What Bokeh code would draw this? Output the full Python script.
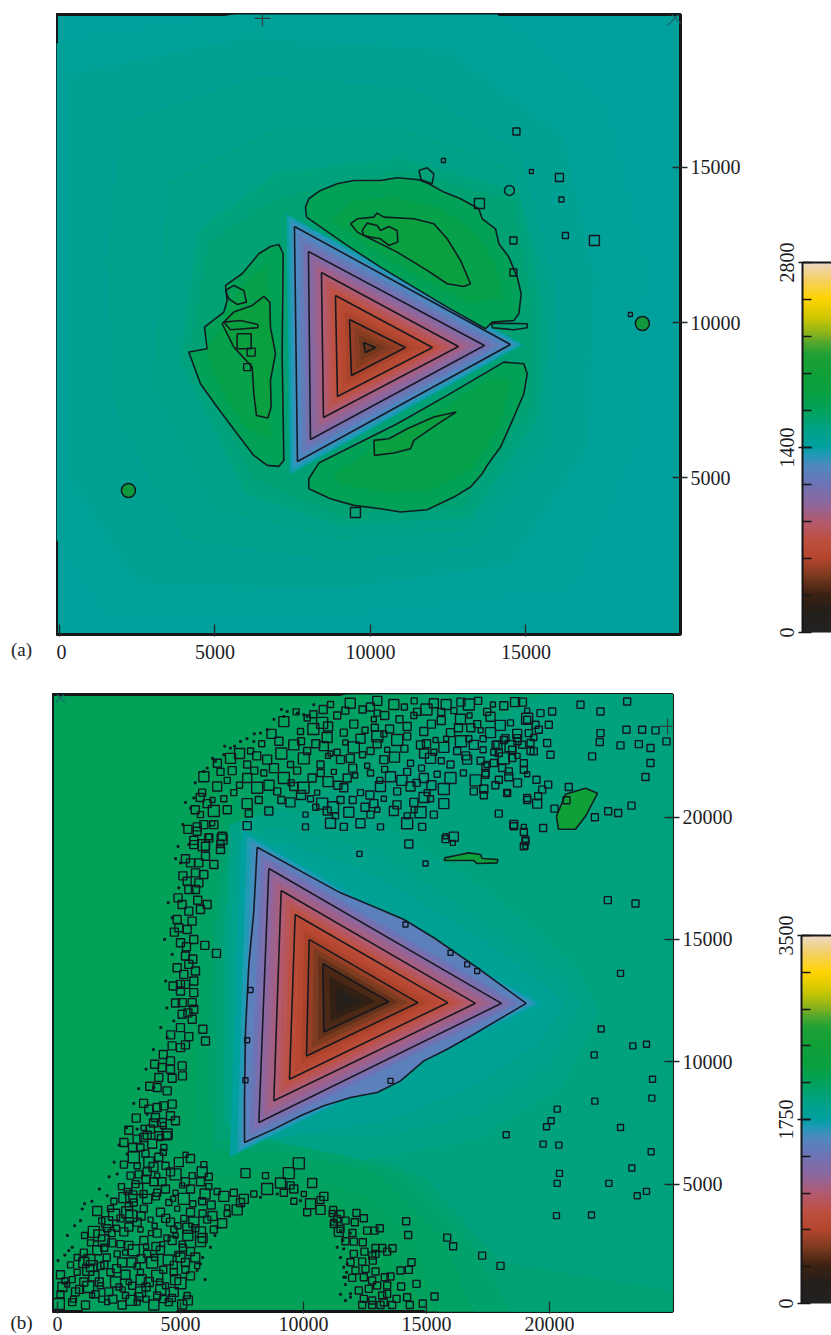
import numpy as np
from bokeh.plotting import figure
from bokeh.layouts import column, row
from bokeh.embed import file_html
from bokeh.resources import INLINE
from bokeh.models import LinearColorMapper, ColumnDataSource, FixedTicker, Arrow, Span
from bokeh.transform import transform

# ---------- colour scale (fraction of full scale, colour)
SCALE_POS = [0, .05, .1, .15, .2, .25, .3, .35, .4, .45, .48, .5, .55, .6, .65, .7, .75, .78, .8, .85, .9, .95, 1]
SCALE_COL = ["#222222", "#231f1c", "#3a2012", "#7a3a1e", "#b5452e", "#bd5040", "#b25a70", "#8d68a0", "#6f73b5",
             "#4f88c0", "#1f9ab5", "#00a0a0", "#00a285", "#00a25a", "#0aa040", "#10a038", "#20a035", "#50a82f",
             "#80b020", "#d0c800", "#ffd400", "#f5d060", "#ecd8c8"]
MAX_A, MAX_B = 2800, 3500

# ---------- panel (a): height field as iso-level regions, lowest region first
BASE_A = 1415
ISO_A = [
 (1440, [-100,6000,14000,17500,18800,18500,16500,9000,1500,-100], [19000,20000,20000,17000,12000,6000,1500,600,600,3000]),
 (1470, [300,6000,12500,16200,17200,17000,14500,9000,2500,300], [18000,19200,18800,16000,11500,6000,2200,1400,1600,5000]),
 (1500, [2000,6500,11500,14800,16000,15800,13500,9000,4000,1800,1500], [16500,18000,17500,15500,11000,6000,2800,2300,3000,7000,12000]),
 (1530, [3500,7000,11000,14500,15800,15500,13000,9000,5000,3000], [14500,16300,16300,15000,11000,6000,3300,3000,4000,8000]),
 (1570, [4500,7000,11000,14800,15500,15400,13200,9000,6000,3900], [13000,14800,15300,14200,10500,7000,3700,3500,4500,8800]),
 (1600, [4800,7000,11000,14600,15200,15200,13000,9000,6200,4200], [12600,14000,14900,13900,10400,7400,4100,3800,5000,9000])]

# nested triangles: (level, x1, y1, x2, y2, x3, y3); outermost first
TRI_A = [
 (1385, 7300,13500,14900,9291,7400,5100),
 (1345, 7380,13400,14800,9291,7470,5200),
 (1300, 7459,13259,14650,9291,7555,5355),
 (1260, 7555,13098,14500,9291,7652,5516),
 (1176, 7705,12829,14221,9280,7791,5753),
 (1092, 7855,12560,13943,9270,7931,5989),
 (1008, 8005,12291,13664,9259,8070,6226),
 (952, 8144,12065,13385,9248,8209,6463),
 (896, 8284,11840,13107,9237,8349,6699),
 (840, 8423,11614,12828,9226,8488,6936),
 (770, 8573,11367,12549,9215,8638,7162),
 (700, 8723,11120,12271,9205,8788,7387),
 (630, 8873,10872,11992,9194,8938,7613),
 (585, 9023,10614,11703,9194,9088,7839),
 (535, 9174,10355,11413,9194,9238,8065),
 (490, 9324,10097,11124,9194,9388,8291),
 (450, 9474,9850,10803,9194,9538,8538),
 (410, 9624,9602,10482,9194,9688,8786),
 (380, 9774,9355,10160,9194,9838,9033)]
TRI_A_CONTOUR_LEVELS = [1260, 1008, 840, 630, 490, 380]

LOBE_TOP_X = [7942,7910,8017,8392,8928,9464,10322,10858,11555,11876,12359,12895,13484,13592,14020,14128,14449,14717,14846,14771,14610,13913,13699,12466,11394,10322,9250]
LOBE_TOP_Y = [13399,13722,13991,14260,14475,14582,14582,14668,14604,14475,14206,13991,13668,13346,13023,12540,12109,11465,10927,10282,10067,10013,9798,10497,11142,11787,12486]
LOBE_TOP_CORE_X = [8700,9500,10800,12200,13300,14000,14300,13200,11500,10000]
LOBE_TOP_CORE_Y = [13300,13950,14050,13700,13000,11900,10800,10600,11500,12400]
LOBE_TOP_IN_X = [9357,9572,10108,10215,10429,11394,12037,12466,12895,13216,13002,12466,11823,10858,10000,9572]
LOBE_TOP_IN_Y = [13185,13346,13399,13529,13399,13346,13185,12701,12002,11250,11163,11250,11680,12271,12701,12916]
LOBE_TOP_KNOT_X = [9732,9893,10215,10322,10590,10858,10879,10590,10322,10000,9786]
LOBE_TOP_KNOT_Y = [12969,13206,13131,12969,13098,12969,12593,12486,12701,12755,12808]
LOBE_LEFT_X = [6784,7052,7192,7160,7213,7052,6677,6248,5712,5069,4533,4158,4748,4662,5284,5391,5337,5873,6409]
LOBE_LEFT_Y = [12453,12518,12217,8992,5552,5359,5391,5713,6412,7272,8024,9046,9153,9852,10336,10712,11196,11572,12217]
LOBE_LEFT_CORE_X = [6700,6800,6000,5200,4700,5200,5700]
LOBE_LEFT_CORE_Y = [11900,6200,6600,7800,9100,9900,11000]
LOBE_LEFT_IN_X = [6570,6763,6784,6945,6784,6806,6699,6334,6248,6195,5605,5391,5230,5605,6195]
LOBE_LEFT_IN_Y = [10841,10658,9852,8992,8132,7272,6917,7003,7702,8562,9207,9637,9960,10336,10551]
LEFT_KNOT1_X = [5337,5605,5927,6013,5712,5444]
LEFT_KNOT1_Y = [11034,11196,11034,10658,10583,10766]
LEFT_KNOT2_X = [5284,5820,6377,6377,5498]
LEFT_KNOT2_Y = [10013,10067,9938,9830,9766]
LEFT_KNOT3_X = [5712,6163,6163,5712]
LEFT_KNOT3_Y = [9637,9637,9153,9153]
LOBE_BOT_X = [8339,8017,8017,8714,9464,10322,10965,11823,12680,13216,13592,13752,14181,14610,14932,15039,14932,14288,12466,10858]
LOBE_BOT_Y = [5466,4961,4638,4316,4101,3993,3886,3961,4369,4692,5122,5391,5982,6950,7702,8347,8670,8723,7648,6734]
LOBE_BOT_CORE_X = [8800,9000,10500,12000,13300,14200,14500,14000,12300,10500]
LOBE_BOT_CORE_Y = [5100,4800,4500,4600,5300,6700,8100,8300,7200,6200]
LOBE_BOT_IN_X = [10108,10590,11180,12037,12755,12252,11394,11287,10751,10129]
LOBE_BOT_IN_Y = [6197,6251,6573,6950,7111,6788,6197,5928,5789,5713]
BLOB_A1_X = [11555,11823,12037,11984,11630]
BLOB_A1_Y = [14904,14990,14797,14475,14604]
BAR_A_X = [13913,15039,15039,14610,13913]
BAR_A_Y = [9981,9959,9830,9766,9830]
DOT_A_X = [14693,12346,15175,16075,16139,13503,14596,14596,16268,17200,18358,9516,6163,6034]
DOT_A_Y = [16162,15227,14872,14678,13969,13840,12646,11614,12807,12646,10259,3871,9046,8562]
DOT_A_SIZE = [7,4,4,8,5,10,7,7,6,10,4,10,8,7]
RING_A_X = [14468]
RING_A_Y = [14259]
GREEN_A_X = [18743,2218]
GREEN_A_Y = [9968,4581]

# ---------- panel (b)
BASE_B = 2120
ISO_B = [
 (2090, [1000,2600,4400,5000,5200,7000,10000,12000,25100,25100,15000,13500,11500,9000,6800,5500,4800], [-300,6000,10000,16000,19000,22000,24500,25100,25100,-300,-300,2500,4200,5000,4500,2200,-300]),
 (2060, [5600,5800,6000,7800,10500,13000,25100,25100,15500,14500,12500,9000,6800,5500], [9000,14000,18500,21500,23500,25100,25100,-300,-300,2500,4500,5700,5300,5500]),
 (2030, [6100,6300,6600,8300,11000,15000,25100,25100,17000,15500,13000,9000,6300], [10000,15000,18500,20800,22500,25100,25100,-300,-300,3000,5500,6300,6400]),
 (2000, [6400,6900,8700,12000,16500,25100,25100,18500,16500,14000,9000,6500], [15000,18500,20500,22000,25100,25100,-300,-300,3000,5500,6800,6800]),
 (1960, [6700,7200,9000,12500,16000,20000,25100,25100,18000,15000,10000,6800], [15000,19000,20500,21500,23000,25100,25100,600,1800,5200,7300,7400]),
 (1925, [7000,9000,13000,17500,21000,22000,20500,17000,12500,8500,6800,6800], [19700,20300,19800,17000,14000,12000,9000,6800,6000,6800,7500,14000]),
 (1880, [7200,9000,13000,17000,20500,21300,20000,17000,13000,9000,7100,7000], [19300,19600,18600,16000,13500,12300,9800,7800,6900,7000,7800,14000]),
 (1820, [7400,9200,13000,17000,20000,20600,19500,17000,13500,9500,7300,7200], [19000,19000,17600,15200,13000,12300,10700,9000,7600,7000,6600,13000])]
HALO_B = [
 (1750, 7500,19500,19700,12390,7000,6100),
 (1680, 7700,19250,19500,12390,7300,6300),
 (1610, 7900,19000,19300,12390,7450,6500)]
EDGE_B_X = [8117,10014,11504,13130,14079,15298,17060,19051,16924,15840,14892,13943,12995,11911,10827,9878,8794,7602,7602,7642,7778,7981]
EDGE_B_Y = [18768,17721,16905,16225,15817,15069,13845,12390,11125,10513,10037,9221,8745,8541,8201,7793,7249,6705,8541,11261,13981,16157]
EDGE_B_LEVEL = 1505
TRI_B = [
 (1412, 8275,18478,18717,12390,7796,6977),
 (1318, 8433,18188,18383,12390,7990,7249),
 (1225, 8591,17898,18049,12390,8184,7521),
 (1167, 8758,17599,17697,12390,8387,7816),
 (1108, 8925,17299,17344,12390,8591,8110),
 (1050, 9092,17000,16992,12390,8794,8405),
 (968, 9282,16674,16617,12399,9006,8700),
 (886, 9471,16347,16242,12408,9219,8994),
 (805, 9661,16021,15867,12417,9431,9289),
 (740, 9851,15681,15461,12417,9661,9606),
 (676, 10040,15341,15054,12417,9892,9924),
 (612, 10230,15001,14648,12417,10122,10241),
 (540, 10415,14670,14255,12431,10357,10567),
 (470, 10601,14339,13862,12444,10592,10894),
 (400, 10786,14008,13469,12458,10827,11220),
 (300, 11050,13500,12950,12470,11100,11650),
 (210, 11300,13050,12400,12470,11350,11980),
 (140, 11500,12800,12000,12480,11530,12200)]
TRI_B_CONTOUR_LEVELS = [1225, 1050, 805, 612, 400]

BLOB_B_X = [20284,20650,21463,21951,21463,21056,20365]
BLOB_B_Y = [20033,20930,21175,20971,20033,19502,19502]
STRIP_B_X = [15732,16247,16721,17195,17263,17900,17873,17060,16924,15732]
STRIP_B_Y = [18333,18442,18537,18469,18306,18265,18129,18102,18224,18224]

# small closed contours as (x, y)
BAND_TOP = [
 (12720,24500),(12995,24250),(13672,24600),(14620,24300),(15298,24650),(16111,24350),(16721,24600),(17466,24300),(18143,24550),(19092,24350),(13300,24150),(14100,24500),(15800,24600),(17100,24750),(18600,24700),
 (10149,24050),(10759,23850),(11369,24150),(12046,23800),(12859,24000),(14214,23700),(14485,24150),(16382,24000),(17060,23800),(17602,24100),(18415,23850),(19092,24020),(11700,24350),(15600,23950),(16750,24150),(13500,23600),
 (9878,23500),(10962,23250),(11640,23450),(12317,23200),(13266,23400),(13808,23150),(14214,23300),(14892,23500),(15366,23150),(15975,23450),(16721,23200),(17602,23450),(18143,23150),(18686,23400),(19363,23250),(10400,23600),(12900,23650),(16300,23650),(17200,23550),(15000,23000),
 (7846,22700),(9607,22950),(10149,22700),(10827,22900),(11369,22650),(12046,22850),(12724,22700),(12995,23000),(13401,22750),(14756,22950),(15298,22650),(15705,22850),(16247,22700),(16924,22950),(17737,22650),(18415,22900),(19227,22700),(9000,23100),(11700,23050),(16600,22500),(17300,22750),
 (7033,22400),(7710,22150),(8523,22350),(9472,22150),(10014,22400),(10691,22150),(11504,22350),(12588,22100),(13266,22350),(14350,22200),(15163,22400),(15975,22150),(16653,22350),(17466,22150),(18143,22400),(18957,22200),(8100,22500),(11000,22500),(12000,22000),(14800,22000),
 (5949,21650),(6626,21850),(7710,21600),(8388,21800),(9201,21600),(9743,21900),(10352,21600),(11233,21850),(11775,21600),(12724,21800),(13537,21650),(14214,21850),(14892,21600),(15434,21750),(15975,21600),(17398,21800),(18347,21650),(19092,21750),(7100,21900),(13100,21500),(11000,21450),
 (5881,21000),(6491,21250),(7168,21000),(8117,21200),(8930,21050),(9607,21250),(10555,21000),(11640,21200),(12317,21000),(13130,21250),(13808,21050),(14350,21250),(15027,21000),(15705,21150),(16924,21050),(17330,21150),(18279,21000),
 (6084,20550),(6762,20750),(7710,20550),(8184,20700),(9472,20600),(10285,20750),(10759,20550),(11504,20700),(12859,20550),(13266,20750),(14485,20600),(15163,20750),(15705,20550),(19092,20700),(19499,20550),
 (5813,20100),(6355,20250),(7778,20150),(8591,20250),(10081,20100),(10962,20250),(11301,20050),(11843,20200),(12724,20100),(13672,20250),(14214,20050),(14756,20200),(15298,20100),
 (5678,19600),(6287,19750),(7710,19650),(10081,19600),(11098,19750),(11640,19600),(12317,19750),(13130,19600),(14214,19750),(14824,19600),(18550,19700),(18957,19600),
 (5542,19050),(6152,19200),(6694,19100),(15772,19100),(16111,19200),(19024,19100),(5949,18850),(6626,18900),(14282,18900),(19024,18800),
 (10800,24400),(11100,24600),(11900,24650),(12400,24400),(13000,24750),(14500,24750),(15000,24400),(15600,24300),(16400,24700),(17700,24600),(18900,24700),
 (9700,24300),(9200,23900),(10400,24200),(11000,23700),(12500,23550),(13000,23300),(13900,24000),(15200,23800),(15800,23200),(16800,23650),(17300,23200),(18000,23750),(18700,23100),
 (8700,23400),(8300,23000),(9100,22600),(9900,23100),(10500,23000),(11100,22600),(11900,22400),(12400,22550),(13700,22450),(14100,22800),(14900,22600),(15600,22300),(16400,23100),(17200,22300),(17900,22950),(18700,22500),
 (6500,22200),(6900,21500),(7400,22600),(8000,21900),(8800,22000),(9500,21400),(10000,21200),(10700,21800),(11400,21300),(12100,21700),(12700,20900),(13300,21950),(14000,21500),(14600,21400),(15200,21300),(16500,21800),(17000,21500),(17800,21300),(18700,21400),
 (6300,20700),(6900,20300),(7400,21300),(8600,21300),(9100,20700),(9900,20900),(10500,20400),(11200,20400),(12000,20700),(12500,20400),(13000,20300),(13800,20500),(14500,20300),(14900,20800)]
TOPRIGHT_X = [21260,22073,23157,20108,19634,19092,19431,19973,19160,19566,18686,18211,18889,19228,17805,17940,18482,18482,19363,19905,20041,22073,22046,23130,23767,22886,23631,24106,24309,24756,21734,24106,23902,17737,17398,18076,18347,18957,17398,17940,19471,19946,19702,20786,18279,17330,19092,19539,20691,20203,17940,18550,18957,19742,19024,18957,22385,22791,21843,23333,22371,23496]
TOPRIGHT_Y = [24589,24317,24725,24317,24249,23977,23773,23773,23433,23569,23229,23229,22957,23025,22957,22617,22753,22413,22685,23025,22549,23433,23066,23569,23569,22930,22984,22821,23542,23093,22481,22209,21638,22209,22073,22005,21869,21937,21733,21529,21529,21325,21121,21230,20985,20890,20781,20849,20686,20346,20142,19625,19394,19557,19013,18809,20237,20169,19992,20468,16606,16470]
RIGHT_X = [22886,22100,23387,23943,21816,24187,24160,21843,20312,20068,19878,22886,18238,19742,20379,24133,23347,20406,20312,22412,23564,23943,20284,21707]
RIGHT_Y = [13614,11343,10649,10717,10282,9289,8514,8392,8065,7589,7344,7317,7018,6637,6596,6324,5658,5440,5032,5032,4529,4706,3713,3740]
BOTTOM_X = [11205,11504,12154,12452,11368,11707,12086,11232,11504,12588,12886,13102,11991,14173,14254,15840,16083,17262,18008,11707,12046,12411,12479,12046,12926,13197,13401,13617,12791,12926,14390,13943,14281,11910,12384,12818,12113,12520,12926,11978,12452,12791,13306,13536,13401,12994,13970,14593,12249,12655,13197,13401,14213,13780,15325,12452,12791,13265,13604,13130,12791,14322,14850,12384]
BOTTOM_Y = [3944,3781,3822,3604,3577,3509,3441,3373,3169,3101,3101,3196,3006,3482,2924,2815,2462,2081,1659,2666,2652,2625,2244,2149,2394,2394,2244,2380,2081,2149,1809,1469,1496,1809,1836,1877,1469,1537,1428,1170,1197,1061,1197,1224,857,857,816,925,653,721,449,517,381,313,408,313,245,177,60,60,60,60,125,60]
ARM_X = [5948,6355,5677,6151,6693,5541,6016,6625,6016,5745,6355,5406,5609,5948,5271,5745,5338,5609,6084,5067,5338,5812,4864,5474,4932,5271,5541,4999,5243,5989,6463,5203,4864,5338,5609,5135,5541,4999,5203,4999,5541,5067,5474,5541,5067,5474,5907,4999,5338,6016,4999,5203,4661,4593,4593,5067,4661,5081,4254,4119,4457,4051,4661,4051,4322,3712,4593,4796,3983,4254,3780,4119,4457,3509,3238,
 5300,5600,5800,5200,5100,4900,5700,4750,5500,4700,4800,5300,4600,4300,3950,3750,3500,3200,2900,2700]
ARM_Y = [19693,19693,19421,19149,19217,18877,18809,18673,18401,18129,18061,18129,17721,17653,17381,17313,17041,17041,16429,16429,16157,16225,15817,15749,15477,15409,15001,14865,14702,14756,14430,14321,13845,13981,13709,13573,13301,13165,13165,12893,12825,12417,12417,12145,11941,11737,11329,11397,11030,10853,10581,10690,10649,10037,9697,9833,9330,9425,9765,9357,8813,8949,8269,8133,8201,8065,7793,7589,7725,7521,7249,6977,6977,6909,6841,
 19500,20300,20800,18300,17600,16700,16600,15300,14200,13100,12400,12000,11100,10300,9900,9000,8300,7700,7200,6700]
CORNER = [
 (3645,7000),(4187,6900),(4458,7050),(3374,6500),(3848,6650),(4323,6500),(3103,6100),(3577,6250),(4119,6100),(5203,6200),(5407,6050),
 (3239,5750),(3713,5900),(4390,5750),(4932,5900),(5949,5800),(9810,5850),(2968,5350),(3645,5500),(4052,5350),(4594,5500),(5474,5350),(5881,5500),(6152,5300),(7642,5450),(8455,5350),(9404,5450),
 (3171,5000),(3916,5100),(5068,4950),(5813,5100),(6152,4900),(9065,5050),(9472,4950),(10352,5050),
 (2832,4700),(3239,4800),(4052,4650),(4390,4800),(4797,4650),(5407,4800),(6491,4700),(6762,4500),(7168,4650),(7575,4400),(7981,4600),(8523,4800),(9201,4650),(9607,4800),(10014,4600),(10827,4500),
 (2290,4300),(2697,4450),(3103,4250),(3645,4400),(4526,4250),(5136,4400),(5881,4300),(6247,4150),(6897,4050),(7439,4250),(9607,4300),(10285,4200),(10691,4350),
 (1613,3900),(2155,4000),(2832,3850),(3510,4000),(4187,3850),(4865,4000),(5407,3850),(6897,3800),(7304,3950),(10149,3850),(10691,3950),(11165,3800),
 (2019,3450),(2561,3600),(3239,3450),(3781,3550),(4594,3450),(5136,3600),(5542,3450),(6084,3550),(6694,3400),(11233,3450),
 (1477,3050),(2019,3200),(2697,3050),(3374,3150),(4052,3000),(4729,3150),(5813,3050),(6355,3150),(11436,3050),
 (1342,2600),(1884,2700),(2561,2550),(3510,2700),(4255,2550),(4661,2700),(5068,2550),(5813,2650),
 (1071,2200),(1613,2300),(2426,2150),(3103,2300),(3645,2150),(4187,2300),(4865,2150),(5407,2250),
 (529,1700),(1071,1800),(1748,1650),(2629,1800),(3239,1650),(3848,1800),(4729,1700),(5203,1800),(5678,1650),
 (122,1300),(800,1400),(1477,1250),(2155,1400),(2764,1300),(3374,1400),(4052,1250),(4729,1400),(5407,1250),
 (393,900),(1071,1000),(1748,850),(2358,1000),(3035,850),(3713,1000),(4390,850),(5000,950),
 (122,500),(732,600),(1409,450),(2087,600),(2764,450),(3374,600),(4052,450),(4729,600),(5271,450),
 (54,100),(596,180),(1138,60),(2019,180),(2629,60),(3239,180),(3916,60),(4526,180),(5068,80),
 (300,1050),(1400,1650),(2000,2000),(2900,2500),(3800,3000),(1700,1000),(2500,800),(3400,1100),(4300,1500),(3000,1800),(2400,3200),(3000,3700),(4000,4500),(3600,5200),(4800,2900),(900,700),(1800,300),(3000,250),(4300,300),(5000,2000),
 (600,1100),(1250,1500),(1900,1700),(2400,1550),(2900,1000),(3600,800),(4150,1000),(4800,1100),(5200,1500),
 (200,800),(650,300),(1250,800),(1550,500),(2250,300),(2650,700),(3300,400),(3600,300),(4200,700),(4650,350),(5300,250),
 (800,2000),(1300,1900),(1900,2400),(2200,2600),(2750,2200),(3400,1950),(3950,2000),(4500,1900),(5100,2400),(5600,2000),
 (1100,2900),(1700,2900),(2200,3000),(2900,3250),(3600,2450),(4000,2450),(4450,2800),(5300,2900),(5600,3200),(5900,2800),
 (1800,3500),(2300,3750),(2900,4100),(3400,3700),(3950,3300),(4400,3600),(4900,3300),(5300,3200),(5900,3800),(6300,3700),
 (2600,4900),(3000,4500),(3500,4600),(4250,5100),(4700,4400),(5200,5100),(5500,4200),(6000,4600),(3300,5400),(3900,5700),(4300,6300),(4800,5400),(2700,5800),(3050,6500),(3500,7300),(3900,7500),(4300,7400)]
NEAR_TRI_X = [7846,7710,7642,13537,14146,15976,16653,17060,15772,16070,12276,14960]
NEAR_TRI_Y = [12934,10880,9248,9221,15613,14457,13981,13709,19217,18945,18496,18102]
SPECK_X = [9201,10149,10420,10014,8523,7981,7439,6762,6084,5949,5542,5407,5339,9336,9743,8252,7033,6423,5000,4932,4661,4661,4729,4457,3915,3645,3238,2832,2426,2019,1003,935,596,461,20,5678,5813,6220,6491,8252,8930,9878,11504,11775,11640,11911,11368,11639,11707,11639,11910,11707,
 8800,9100,8000,7700,7200,6800,6300,5600,5200,5100,4900,4800,4500,4350,4400,4450,4200,3900,3600,3300,3100,2800,2500,2300,2100,1700,1400,1100,700,400,300,6000,5900,6400,7000,7500,11900,11600,11500,11700,11500,11750]
SPECK_Y = [24113,24113,24589,24181,23569,23093,23093,22549,22005,21869,20781,20373,18877,24317,24249,23433,22821,22277,18129,17109,15885,14389,11669,10989,8949,7861,7249,6229,5413,4529,3985,3509,2421,2285,1877,1469,1741,2421,3237,4461,4597,4325,3101,1741,1197,517,2421,2353,1197,1605,381,245,
 24000,24400,23400,23200,22900,22900,22400,21400,20600,19700,18800,18300,16500,15000,13300,12200,11400,10500,9700,8900,8300,7300,6600,5900,5300,4800,4300,4200,3300,2900,2100,1100,2000,2900,3700,4100,3000,2700,2000,900,500,1400]

X_TICKS_A = [0, 5000, 10000, 15000]
Y_TICKS_A = [5000, 10000, 15000]
X_TICKS_B = [0, 5000, 10000, 15000, 20000]
Y_TICKS_B = [5000, 10000, 15000, 20000]

SERIF = "Liberation Serif"
INK = "#1d1d1f"
LINE = "#11161f"
SIZE_STEPS = [8, 6, 10, 7, 9, 6, 11, 7, 8, 5]


def hex2rgb(h):
    return [int(h[i:i + 2], 16) for i in (1, 3, 5)]


rgb = np.array([hex2rgb(c) for c in SCALE_COL], float)
t = np.linspace(0, 1, 512)
PALETTE = ["#%02x%02x%02x" % tuple(int(round(np.interp(v, SCALE_POS, rgb[:, k]))) for k in range(3)) for v in t]


def closed(x, y):
    return list(x) + [x[0]], list(y) + [y[0]]


def contours(p, pairs, width=1.6):
    xs, ys = zip(*[closed(a, b) for a, b in pairs])
    p.multi_line(list(xs), list(ys), line_color=LINE, line_width=width, line_alpha=.95)


def bands(p, tris, mapper):
    src = ColumnDataSource(dict(
        xs=[[q[1], q[3], q[5]] for q in tris],
        ys=[[q[2], q[4], q[6]] for q in tris],
        v=[q[0] for q in tris]))
    p.patches("xs", "ys", source=src, fill_color=transform("v", mapper), line_color=None)


def iso(p, regions, mapper):
    src = ColumnDataSource(dict(xs=[r[1] for r in regions], ys=[r[2] for r in regions], v=[r[0] for r in regions]))
    p.patches("xs", "ys", source=src, fill_color=transform("v", mapper), line_color=None)


def fill_shape(p, x, y, level, mapper):
    src = ColumnDataSource(dict(xs=[list(x)], ys=[list(y)], v=[level]))
    p.patches("xs", "ys", source=src, fill_color=transform("v", mapper), line_color=None)


def tick_mark(p, x, y, half, kind, color):
    if kind == "+":
        segs = [(x - half, y, x + half, y), (x, y - half, x, y + half)]
    else:
        segs = [(x - half, y - half, x + half, y + half), (x - half, y + half, x + half, y - half)]
    for a, b, c, d in segs:
        p.add_layout(Arrow(end=None, x_start=a, y_start=b, x_end=c, y_end=d, line_color=color, line_width=1.3, level="overlay"))


def panel(w, h, xr, yr, xt, yt, br, bt, bb, base, standoff):
    p = figure(width=w, height=h, x_range=xr, y_range=yr, output_backend="svg", toolbar_location=None,
               x_axis_location="below", y_axis_location="right",
               min_border_left=0, min_border_right=br, min_border_top=bt, min_border_bottom=bb)
    p.grid.visible = False
    p.outline_line_color = "#17171a"
    p.outline_line_width = 3
    p.background_fill_color = base
    p.border_fill_color = "white"
    for ax, ticks in ((p.xaxis[0], xt), (p.yaxis[0], yt)):
        ax.ticker = FixedTicker(ticks=ticks, minor_ticks=[])
        ax.axis_line_color = None
        ax.major_tick_line_color = "#1f2a2c"
        ax.major_tick_line_width = 1.3
        ax.minor_tick_line_color = None
        ax.major_label_text_font = SERIF
        ax.major_label_text_font_size = "20px"
        ax.major_label_text_color = INK
        ax.major_label_standoff = 3
    p.xaxis.major_label_standoff = standoff
    p.xaxis.major_tick_in = 10
    p.xaxis.major_tick_out = 2
    p.yaxis.major_tick_in = 8
    p.yaxis.major_tick_out = 7
    return p


def tag_strip(w, h, tag, bt, bb, standoff):
    # a narrow figure whose only content is the panel letter, carried by its bottom axis
    p = figure(width=w, height=h, x_range=(0, w), y_range=(0, 1), output_backend="svg", toolbar_location=None,
               min_border_left=0, min_border_right=0, min_border_top=bt, min_border_bottom=bb)
    p.grid.visible = False
    p.outline_line_color = None
    p.yaxis.visible = False
    ax = p.xaxis[0]
    ax.ticker = FixedTicker(ticks=[21], minor_ticks=[])
    ax.major_label_overrides = {21: tag}
    ax.axis_line_color = None
    ax.major_tick_line_color = None
    ax.minor_tick_line_color = None
    ax.major_tick_in = 0
    ax.major_tick_out = 0
    ax.major_label_text_font = SERIF
    ax.major_label_text_font_size = "19px"
    ax.major_label_text_color = INK
    ax.major_label_standoff = standoff
    return p


def legend(w, h, yr, maxv, bl, bt, bb):
    p = figure(width=w, height=h, x_range=(0, 1), y_range=yr, output_backend="svg", toolbar_location=None,
               min_border_left=bl, min_border_right=0, min_border_top=bt, min_border_bottom=bb)
    p.grid.visible = False
    p.outline_line_color = None
    p.xaxis.visible = False
    mapper = LinearColorMapper(palette=PALETTE, low=0, high=maxv)
    p.image(image=[np.linspace(0, maxv, 512).reshape(512, 1)], x=0, y=0, dw=1, dh=maxv, color_mapper=mapper)
    ax = p.yaxis[0]
    ax.bounds = (0, maxv)
    ax.ticker = FixedTicker(ticks=[0, maxv // 2, maxv], minor_ticks=[maxv * k / 10 for k in range(1, 10)])
    ax.axis_line_color = "#17171a"
    ax.axis_line_width = 2
    ax.major_tick_line_color = "#17171a"
    ax.minor_tick_line_color = "#17171a"
    ax.major_tick_line_width = 1.3
    ax.minor_tick_line_width = 1.3
    ax.major_tick_in = 9
    ax.major_tick_out = 4
    ax.minor_tick_in = 9
    ax.minor_tick_out = 0
    ax.major_label_orientation = "vertical"
    ax.major_label_text_font = SERIF
    ax.major_label_text_font_size = "20px"
    ax.major_label_text_color = INK
    ax.major_label_standoff = 4
    p.add_layout(Span(location=maxv, dimension="width", line_color="#17171a", line_width=2))
    return p


def level_color(v, maxv):
    return PALETTE[int(v / maxv * (len(PALETTE) - 1))]


# ---------- build (a)
map_a = LinearColorMapper(palette=PALETTE, low=0, high=MAX_A)
pa = panel(692, 662, (-96, 19968), (-64, 19935), X_TICKS_A, Y_TICKS_A, 68, 14, 28, level_color(BASE_A, MAX_A), 8)
iso(pa, ISO_A, map_a)
bands(pa, TRI_A[:3], map_a)
for x, y in ((LOBE_TOP_X, LOBE_TOP_Y), (LOBE_LEFT_X, LOBE_LEFT_Y), (LOBE_BOT_X, LOBE_BOT_Y)):
    fill_shape(pa, x, y, 1700, map_a)
for x, y in ((LOBE_TOP_CORE_X, LOBE_TOP_CORE_Y), (LOBE_LEFT_CORE_X, LOBE_LEFT_CORE_Y), (LOBE_BOT_CORE_X, LOBE_BOT_CORE_Y)):
    fill_shape(pa, x, y, 1760, map_a)
for x, y in ((LOBE_TOP_IN_X, LOBE_TOP_IN_Y), (LOBE_LEFT_IN_X, LOBE_LEFT_IN_Y), (LOBE_BOT_IN_X, LOBE_BOT_IN_Y)):
    fill_shape(pa, x, y, 1830, map_a)
bands(pa, TRI_A[3:], map_a)
pa_pairs = [(LOBE_TOP_X, LOBE_TOP_Y), (LOBE_TOP_IN_X, LOBE_TOP_IN_Y), (LOBE_TOP_KNOT_X, LOBE_TOP_KNOT_Y),
            (LOBE_LEFT_X, LOBE_LEFT_Y), (LOBE_LEFT_IN_X, LOBE_LEFT_IN_Y), (LEFT_KNOT1_X, LEFT_KNOT1_Y),
            (LEFT_KNOT2_X, LEFT_KNOT2_Y), (LEFT_KNOT3_X, LEFT_KNOT3_Y), (LOBE_BOT_X, LOBE_BOT_Y),
            (LOBE_BOT_IN_X, LOBE_BOT_IN_Y), (BLOB_A1_X, BLOB_A1_Y), (BAR_A_X, BAR_A_Y)]
for q in TRI_A:
    if q[0] in TRI_A_CONTOUR_LEVELS:
        pa_pairs.append(([q[1], q[3], q[5]], [q[2], q[4], q[6]]))
contours(pa, pa_pairs)
pa.scatter(DOT_A_X, DOT_A_Y, marker="square", size=DOT_A_SIZE, fill_color=None, line_color=LINE, line_width=1.4)
pa.scatter(RING_A_X, RING_A_Y, marker="circle", size=10, fill_color=None, line_color=LINE, line_width=1.4)
pa.scatter(GREEN_A_X, GREEN_A_Y, marker="circle", size=14, fill_color="#10983c", line_color=LINE, line_width=1.5)
tick_mark(pa, 6526, 19808, 250, "+", "#23443f")
tick_mark(pa, 19800, 19830, 240, "x", "#176a6a")

# ---------- build (b)
map_b = LinearColorMapper(palette=PALETTE, low=0, high=MAX_B)
pb = panel(688, 673, (-203, 25000), (-204, 25010), X_TICKS_B, Y_TICKS_B, 68, 32, 24, level_color(BASE_B, MAX_B), 3)
iso(pb, ISO_B, map_b)
bands(pb, HALO_B, map_b)
fill_shape(pb, EDGE_B_X, EDGE_B_Y, EDGE_B_LEVEL, map_b)
bands(pb, TRI_B, map_b)
fill_shape(pb, BLOB_B_X, BLOB_B_Y, 2450, map_b)
fill_shape(pb, STRIP_B_X, STRIP_B_Y, 2400, map_b)
pb_pairs = [(EDGE_B_X, EDGE_B_Y), (BLOB_B_X, BLOB_B_Y), (STRIP_B_X, STRIP_B_Y)]
for q in TRI_B:
    if q[0] in TRI_B_CONTOUR_LEVELS:
        pb_pairs.append(([q[1], q[3], q[5]], [q[2], q[4], q[6]]))
contours(pb, pb_pairs)
for pts in (BAND_TOP, CORNER):
    xs = [a for a, b in pts]
    ys = [b for a, b in pts]
    sizes = [SIZE_STEPS[i % len(SIZE_STEPS)] for i in range(len(pts))]
    pb.scatter(xs, ys, marker="square", size=sizes, fill_color=None, line_color=LINE, line_width=1.4)
for x, y, s in ((TOPRIGHT_X, TOPRIGHT_Y, 7), (RIGHT_X, RIGHT_Y, 6), (BOTTOM_X, BOTTOM_Y, 7), (ARM_X, ARM_Y, 8), (NEAR_TRI_X, NEAR_TRI_Y, 5)):
    pb.scatter(x, y, marker="square", size=s, fill_color=None, line_color=LINE, line_width=1.4)
pb.scatter(SPECK_X, SPECK_Y, marker="square", size=2, color=LINE, alpha=.85)
tick_mark(pb, 24797, 23705, 325, "+", "#23443f")
tick_mark(pb, 120, 24870, 180, "x", "#176a6a")

ta = tag_strip(56, 662, "(a)", 14, 28, 4)
tb = tag_strip(52, 673, "(b)", 32, 24, 0)
la = legend(83, 662, (-15, 4677), MAX_A, 54, 14, 28)
lb = legend(91, 673, (-76, 5792), MAX_B, 61, 32, 24)

page = column(row(ta, pa, la, spacing=0), row(tb, pb, lb, spacing=0), spacing=0)
open("out.html", "w").write(file_html(page, INLINE))
